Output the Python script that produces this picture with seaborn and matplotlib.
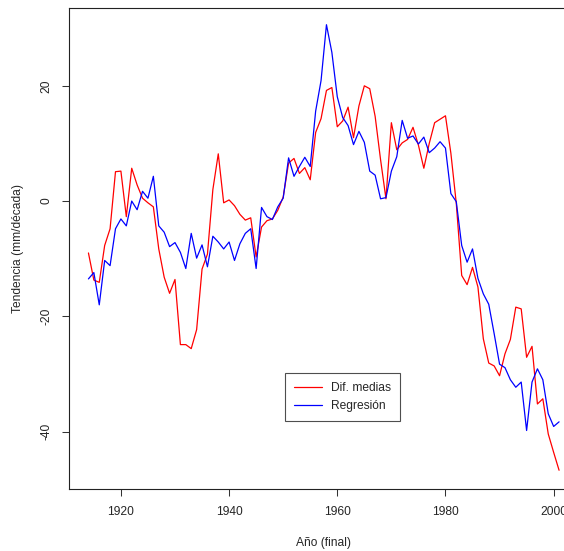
import numpy as np
import pandas as pd
import seaborn as sns
import matplotlib.pyplot as plt
from matplotlib.lines import Line2D

# ------------ DATA ------------
years = list(range(1914, 2002))

dif_medias = [
    -9.0, -13.7, -14.1, -7.7, -4.8, 5.1, 5.2, -2.7, 5.7, 2.8,
    0.5, -0.3, -1.0, -8.3, -13.2, -16.0, -13.6, -24.9, -24.9, -25.6,
    -22.3, -11.8, -9.2, 2.0, 8.2, -0.3, 0.2, -0.8, -2.3, -3.3,
    -2.9, -9.7, -4.5, -3.4, -3.1, -1.6, 0.7, 6.6, 7.4, 4.8,
    5.8, 3.7, 11.9, 14.3, 19.2, 19.7, 12.9, 13.9, 16.3, 11.0,
    16.5, 20.0, 19.5, 14.7, 7.2, 0.4, 13.6, 8.9, 10.1, 10.7,
    12.8, 9.7, 5.7, 10.0, 13.6, 14.2, 14.8, 8.3, -0.4, -12.9,
    -14.5, -11.5, -14.9, -23.9, -28.1, -28.6, -30.3, -26.5, -24.0, -18.4,
    -18.7, -27.1, -25.2, -35.2, -34.3, -40.4, -43.6, -46.7,
]

regresion = [
    -13.5, -12.4, -18.0, -10.3, -11.2, -4.8, -3.1, -4.3, 0.0, -1.5,
    1.7, 0.5, 4.3, -4.3, -5.4, -7.9, -7.2, -8.9, -11.7, -5.6,
    -9.9, -7.6, -11.4, -6.1, -7.1, -8.3, -7.1, -10.3, -7.4, -5.6,
    -4.8, -11.7, -1.1, -2.7, -3.2, -1.0, 0.5, 7.5, 4.3, 6.0,
    7.6, 6.0, 15.6, 20.9, 30.6, 25.8, 18.1, 14.5, 13.1, 9.8,
    12.1, 10.2, 5.2, 4.5, 0.4, 0.6, 5.2, 7.7, 14.0, 10.9,
    11.3, 9.9, 11.1, 8.4, 9.2, 10.3, 9.2, 1.3, -0.1, -7.7,
    -10.6, -8.3, -13.4, -16.1, -17.9, -23.0, -28.3, -28.9, -31.0, -32.3,
    -31.4, -39.8, -31.4, -29.1, -31.0, -36.9, -39.1, -38.3,
]

series_names = ["Dif. medias", "Regresión"]
series_colors = ["#ff0000", "#0000ff"]
x_ticks = [1920, 1940, 1960, 1980, 2000]
y_ticks = [-40, -20, 0, 20]
# -------------------------------

df = pd.concat([
    pd.DataFrame({"year": years, "value": dif_medias, "serie": series_names[0]}),
    pd.DataFrame({"year": years, "value": regresion, "serie": series_names[1]}),
])

sns.set_style("white")
plt.rcParams["font.family"] = ["Liberation Sans", "DejaVu Sans"]

W, H, DPI = 564, 551, 100
FS = 12 * 72 / DPI  # 12 px text

fig = plt.figure(figsize=(W / DPI, H / DPI), dpi=DPI)
# axes box: left 69.4px, right 578px (clipped by figure), top 8px, bottom 488.7px
ax = fig.add_axes([69.4 / W, (H - 488.7) / H, (578 - 69.4) / W, (488.7 - 8) / H])

sns.lineplot(data=df, x="year", y="value", hue="serie",
             palette=dict(zip(series_names, series_colors)),
             linewidth=0.9, legend=False, ax=ax)

ax.set_xlim(1910.48, 2004.5)
ax.set_ylim(-49.9, 33.5)
ax.set_xticks(x_ticks)
ax.set_yticks(y_ticks)
ax.set_xticklabels([str(t) for t in x_ticks], fontsize=FS)
ax.set_yticklabels([str(t) for t in y_ticks], fontsize=FS, rotation=90, va="center")
ax.tick_params(axis="both", direction="out", length=5.2, width=0.75, color="#333333",
               pad=7, bottom=True, left=True)
for s in ax.spines.values():
    s.set_color("#222222")
    s.set_linewidth(0.8)

ax.set_xlabel("Año (final)", fontsize=FS, labelpad=14)
ax.set_ylabel("Tendencia (mm/década)", fontsize=FS, labelpad=12)

handles = [Line2D([], [], color=c, lw=0.9) for c in series_colors]
leg = ax.legend(handles, series_names, loc="upper left",
                bbox_to_anchor=((285 - 69.4) / (578 - 69.4), (488.7 - 373) / (488.7 - 8)),
                frameon=True, fancybox=False, fontsize=FS, handlelength=2.3,
                handletextpad=0.8, borderpad=0.75, labelspacing=0.5, borderaxespad=0)
leg.get_frame().set_edgecolor("#222222")
leg.get_frame().set_linewidth(0.8)

plt.savefig("out.png", dpi=DPI)
